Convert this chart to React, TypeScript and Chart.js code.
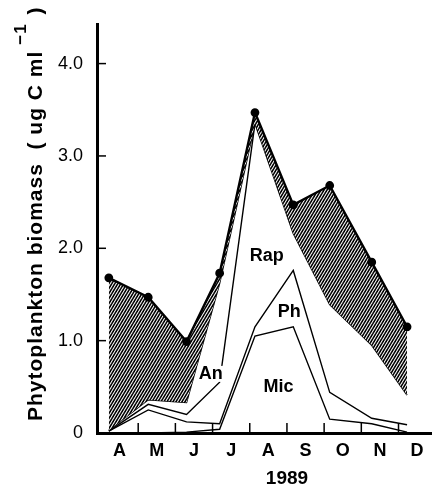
import React, { useEffect, useRef } from 'react';
import { Chart, registerables } from 'chart.js';

Chart.register(...registerables);

// ---- data ----
const monthLabels = ['A', 'M', 'J', 'J', 'A', 'S', 'O', 'N', 'D'];
const monthBoundaries = [1, 2, 3, 4, 5, 6, 7, 8];
// sampling dates, in months since 1 April 1989
const sampleMonths = [0.21, 1.27, 2.3, 3.19, 4.14, 5.17, 6.15, 7.28, 8.23];
const totalBiomass = [1.68, 1.47, 0.99, 1.73, 3.47, 2.47, 2.68, 1.85, 1.15];
const hatchBase = [0.03, 0.36, 0.33, 1.62, 3.35, 2.16, 1.39, 0.95, 0.41];
const anTop = [0.02, 0.31, 0.2, 0.55, 3.35];
const phTop = [0.02, 0.25, 0.12, 0.1, 1.15, 1.76, 0.44, 0.16, 0.09];
const micTop = [0.0, 0.0, 0.01, 0.04, 1.05, 1.15, 0.15, 0.1, 0.01];
const yTickValues = [0, 1, 2, 3, 4];
const yTickLabels = ['0', '1.0', '2.0', '3.0', '4.0'];
const groupNames = ['Rap', 'Ph', 'An', 'Mic'];
const groupLabelX = [4.46, 5.06, 2.95, 4.77];
const groupLabelY = [1.92, 1.31, 0.64, 0.5];
const xTitle = '1989';
const yTitleMain = 'Phytoplankton biomass  ( ug C ml';
const yTitleSup = '−1';
const yTitleEnd = ' )';

const FONT = '"Liberation Sans", Arial, sans-serif';

const toPoints = (vals: number[]) => vals.map((v, i) => ({ x: sampleMonths[i], y: v }));

function makeHatch(): CanvasPattern | string {
  const w = 3;
  const h = 5;
  const tile = document.createElement('canvas');
  tile.width = w;
  tile.height = h;
  const t = tile.getContext('2d');
  if (!t) return '#444';
  t.fillStyle = '#fff';
  t.fillRect(0, 0, w, h);
  t.strokeStyle = '#000';
  t.lineWidth = 1.6;
  for (const k of [-1, 0, 1]) {
    t.beginPath();
    t.moveTo(-1, h + h / w + k * h);
    t.lineTo(w + 1, -h / w + k * h);
    t.stroke();
  }
  const p = t.createPattern(tile, 'repeat');
  return p || '#444';
}

const decorPlugin = {
  id: 'decor',
  afterDraw(chart: any) {
    const { ctx, chartArea } = chart;
    const x = chart.scales.x;
    const y = chart.scales.y;
    ctx.save();
    ctx.strokeStyle = '#000';
    ctx.lineWidth = 1.5;
    // inward tick marks on x axis (month boundaries)
    monthBoundaries.forEach((m) => {
      const px = x.getPixelForValue(m);
      ctx.beginPath();
      ctx.moveTo(px, chartArea.bottom);
      ctx.lineTo(px, chartArea.bottom - 10);
      ctx.stroke();
    });
    // inward tick marks on y axis
    yTickValues.forEach((v) => {
      if (v === 0) return;
      const py = y.getPixelForValue(v);
      ctx.beginPath();
      ctx.moveTo(chartArea.left, py);
      ctx.lineTo(chartArea.left + 9, py);
      ctx.stroke();
    });
    // group labels
    ctx.font = `bold 18px ${FONT}`;
    ctx.textAlign = 'center';
    ctx.textBaseline = 'middle';
    groupNames.forEach((name, i) => {
      const px = x.getPixelForValue(groupLabelX[i]);
      const py = y.getPixelForValue(groupLabelY[i]);
      const w = ctx.measureText(name).width;
      ctx.fillStyle = '#fff';
      ctx.fillRect(px - w / 2 - 1, py - 8, w + 2, 16);
      ctx.fillStyle = '#000';
      ctx.fillText(name, px, py);
    });
    // x title
    ctx.font = `bold 19px ${FONT}`;
    ctx.fillText(xTitle, x.getPixelForValue(5.0), 479);
    // y title (rotated)
    ctx.translate(42, 421);
    ctx.rotate(-Math.PI / 2);
    ctx.textAlign = 'left';
    ctx.textBaseline = 'alphabetic';
    ctx.font = `bold 21px ${FONT}`;
    (ctx as any).letterSpacing = '1px';
    ctx.fillText(yTitleMain, 0, 0);
    let off = ctx.measureText(yTitleMain).width + 6;
    ctx.font = `bold 17px ${FONT}`;
    ctx.fillText(yTitleSup, off, -16);
    off += ctx.measureText(yTitleSup).width + 2;
    ctx.font = `bold 21px ${FONT}`;
    ctx.fillText(yTitleEnd, off, 0);
    ctx.restore();
  },
};

export default function App() {
  const ref = useRef<HTMLCanvasElement | null>(null);
  useEffect(() => {
    if (!ref.current) return;
    const hatch = makeHatch();
    const thin = { borderColor: '#000', borderWidth: 1.4, pointRadius: 0, fill: false, tension: 0 };
    const chart = new Chart(ref.current, {
      type: 'line',
      data: {
        datasets: [
          {
            label: 'Total',
            data: toPoints(totalBiomass),
            borderColor: '#000',
            borderWidth: 2.4,
            pointRadius: 3.2,
            pointBackgroundColor: '#000',
            pointBorderColor: '#000',
            backgroundColor: hatch as any,
            fill: '+1',
            tension: 0,
          },
          { label: 'Base', data: toPoints(hatchBase), ...thin },
          { label: 'An', data: toPoints(anTop), ...thin },
          { label: 'Ph', data: toPoints(phTop), ...thin },
          { label: 'Mic', data: toPoints(micTop), ...thin },
        ],
      },
      options: {
        animation: false,
        responsive: false,
        maintainAspectRatio: false,
        layout: { padding: { top: 12, left: 0, right: 0, bottom: 0 } },
        plugins: { legend: { display: false }, tooltip: { enabled: false }, title: { display: false } },
        scales: {
          x: {
            type: 'linear',
            min: -0.108,
            max: 8.89,
            afterBuildTicks: (s: any) => {
              s.ticks = monthLabels.map((_, i) => ({ value: i + 0.5 }));
            },
            afterFit: (s: any) => {
              s.height = 57;
            },
            ticks: {
              callback: (v: any) => monthLabels[Math.floor(Number(v))],
              font: { family: FONT, size: 18, weight: 'bold' },
              color: '#000',
              padding: 7,
              maxRotation: 0,
              autoSkip: false,
            },
            grid: { display: false, drawTicks: false },
            border: { display: true, color: '#000', width: 3 },
          },
          y: {
            type: 'linear',
            min: 0,
            max: 4.42,
            afterBuildTicks: (s: any) => {
              s.ticks = yTickValues.map((v) => ({ value: v }));
            },
            afterFit: (s: any) => {
              s.width = 97;
            },
            ticks: {
              callback: (v: any) => yTickLabels[yTickValues.indexOf(Number(v))],
              font: { family: FONT, size: 18 },
              color: '#000',
              padding: 14,
              autoSkip: false,
            },
            grid: { display: false, drawTicks: false },
            border: { display: true, color: '#000', width: 3 },
          },
        },
      },
      plugins: [decorPlugin],
    });
    return () => chart.destroy();
  }, []);
  return (
    <div style={{ position: 'fixed', left: 0, top: 0, width: 438, height: 490, background: '#fff' }}>
      <canvas ref={ref} width={438} height={490} style={{ display: 'block' }} />
    </div>
  );
}
